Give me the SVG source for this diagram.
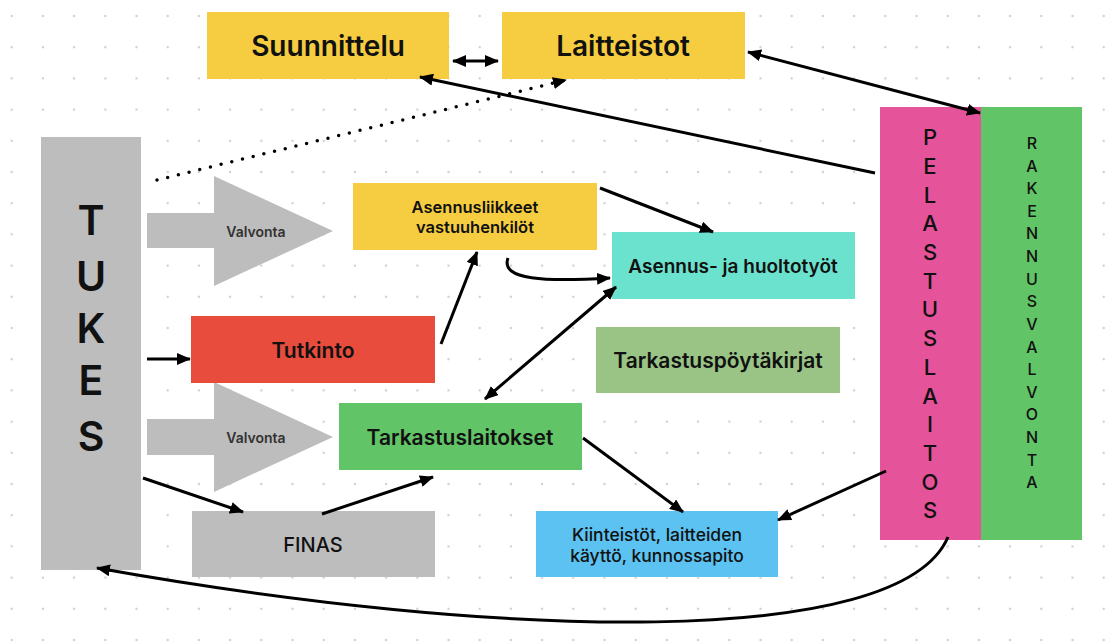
<svg xmlns="http://www.w3.org/2000/svg" width="1107" height="642" viewBox="0 0 1107 642">
<defs>
<pattern id="dots" x="-3.9" y="0.4" width="31.2" height="31.2" patternUnits="userSpaceOnUse">
<circle cx="15.6" cy="15.6" r="1.2" fill="#cfcfcf"/>
</pattern>
<marker id="ah" viewBox="0 0 14 12" markerWidth="14" markerHeight="12" refX="13" refY="6" orient="auto-start-reverse" markerUnits="userSpaceOnUse">
<path d="M0,0 L14,6 L0,12 Z" fill="#000"/>
</marker>
</defs>
<style>
text{font-family:Inter,"Noto Sans","Liberation Sans",sans-serif;fill:#111;text-anchor:middle;dominant-baseline:central}
.c{fill:none;stroke:#000;stroke-width:3}
.a{marker-end:url(#ah)}
.b{marker-start:url(#ah);marker-end:url(#ah)}
.big{font-size:28px;font-weight:600}
.mid{font-size:21px;font-weight:600}
.sm{font-size:16.5px;font-weight:600}
</style>
<rect width="1107" height="642" fill="#fff"/>
<rect width="1107" height="642" fill="url(#dots)"/>

<g id="suunnittelu"><rect x="207" y="12" width="242" height="67" fill="#F6CD41"/><text class="big" x="328" y="46">Suunnittelu</text></g>
<g id="laitteistot"><rect x="502" y="12" width="243" height="67" fill="#F6CD41"/><text class="big" x="623" y="46">Laitteistot</text></g>

<g id="tukes"><rect x="41" y="137" width="100" height="433" fill="#BDBDBD"/>
<text style="font-size:41px;font-weight:600" x="91"><tspan x="91" y="220">T</tspan><tspan x="91" y="276">U</tspan><tspan x="91" y="328">K</tspan><tspan x="91" y="380">E</tspan><tspan x="91" y="436">S</tspan></text></g>

<g id="valvonta1"><path d="M147,213 H214 V176 L333,231 L214,286 V248 H147 Z" fill="#BDBDBD"/><text style="font-size:14px;font-weight:600;fill:#333" x="256" y="231">Valvonta</text></g>
<g id="valvonta2"><path d="M147,419 H214 V382 L333,437 L214,492 V455 H147 Z" fill="#BDBDBD"/><text style="font-size:14px;font-weight:600;fill:#333" x="256" y="437">Valvonta</text></g>

<g id="asennusliikkeet"><rect x="353" y="183" width="244" height="67" fill="#F6CD41"/><text class="sm" x="475"><tspan x="475" y="207">Asennusliikkeet</tspan><tspan x="475" y="227">vastuuhenkilöt</tspan></text></g>
<g id="tutkinto"><rect x="191" y="316" width="244" height="67" fill="#E84C3D"/><text class="mid" x="313" y="350">Tutkinto</text></g>
<g id="tarkastuslaitokset"><rect x="339" y="403" width="243" height="67" fill="#61C467"/><text class="mid" x="460" y="437">Tarkastuslaitokset</text></g>
<g id="asennustyot"><rect x="612" y="232" width="243" height="67" fill="#6BE2CE"/><text style="font-size:19px;font-weight:600" x="733" y="266">Asennus- ja huoltotyöt</text></g>
<g id="poytakirjat"><rect x="596" y="327" width="244" height="66" fill="#99C485"/><text class="mid" x="718" y="360">Tarkastuspöytäkirjat</text></g>
<g id="finas"><rect x="192" y="511" width="243" height="66" fill="#BDBDBD"/><text style="font-size:20px;font-weight:500" x="313" y="545">FINAS</text></g>
<g id="kiinteistot"><rect x="536" y="511" width="242" height="66" fill="#5BC2F1"/><text style="font-size:17.5px;font-weight:500" x="657"><tspan x="657" y="534">Kiinteistöt, laitteiden</tspan><tspan x="657" y="555">käyttö, kunnossapito</tspan></text></g>

<g id="pelastuslaitos"><rect x="880" y="107" width="101" height="433" fill="#E5539A"/>
<text style="font-size:22px;font-weight:500" x="930"><tspan x="930" y="137">P</tspan><tspan x="930" y="166">E</tspan><tspan x="930" y="195">L</tspan><tspan x="930" y="223">A</tspan><tspan x="930" y="252">S</tspan><tspan x="930" y="281">T</tspan><tspan x="930" y="309">U</tspan><tspan x="930" y="338">S</tspan><tspan x="930" y="367">L</tspan><tspan x="930" y="396">A</tspan><tspan x="930" y="424">I</tspan><tspan x="930" y="453">T</tspan><tspan x="930" y="482">O</tspan><tspan x="930" y="510">S</tspan></text></g>
<g id="rakennusvalvonta"><rect x="981" y="107" width="101" height="433" fill="#61C467"/>
<text style="font-size:16px;font-weight:500" x="1032"><tspan x="1032" y="143">R</tspan><tspan x="1032" y="166">A</tspan><tspan x="1032" y="188">K</tspan><tspan x="1032" y="211">E</tspan><tspan x="1032" y="233">N</tspan><tspan x="1032" y="256">N</tspan><tspan x="1032" y="279">U</tspan><tspan x="1032" y="301">S</tspan><tspan x="1032" y="324">V</tspan><tspan x="1032" y="347">A</tspan><tspan x="1032" y="369">L</tspan><tspan x="1032" y="392">V</tspan><tspan x="1032" y="414">O</tspan><tspan x="1032" y="437">N</tspan><tspan x="1032" y="460">T</tspan><tspan x="1032" y="482">A</tspan></text></g>

<g id="connectors">
<line class="c b" x1="453" y1="61" x2="498" y2="61"/>
<line class="c b" x1="748" y1="52" x2="980" y2="113"/>
<line class="c a" x1="875" y1="173" x2="420" y2="77"/>
<line class="a" x1="157" y1="180" x2="566" y2="80" stroke="#000" stroke-width="3.5" stroke-linecap="round" stroke-dasharray="0 11" fill="none"/>
<line class="c a" x1="600" y1="188" x2="713" y2="232"/>
<path class="c a" d="M508,258 C500,280 545,282 610,278"/>
<line class="c a" x1="441" y1="344" x2="477" y2="252"/>
<line class="c b" x1="485" y1="399" x2="616" y2="287"/>
<line class="c a" x1="147" y1="359" x2="190" y2="359"/>
<line class="c a" x1="143" y1="478" x2="243" y2="512"/>
<line class="c a" x1="322" y1="514" x2="433" y2="477"/>
<line class="c a" x1="583" y1="438" x2="683" y2="512"/>
<line class="c a" x1="886" y1="471" x2="778" y2="520"/>
<path class="c a" d="M948,537 C900,650 500,640 97,568"/>
</g>
</svg>
